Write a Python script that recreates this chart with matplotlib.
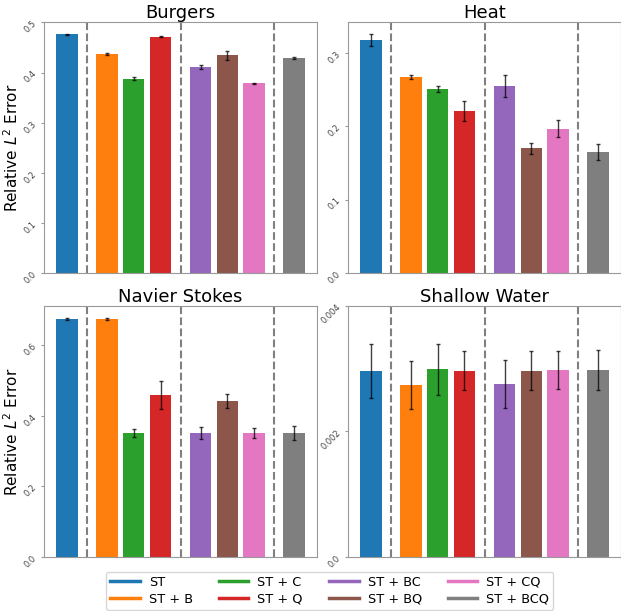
import numpy as np
import matplotlib.pyplot as plt
from matplotlib.lines import Line2D

# Methods and their group layout (gaps between groups)
methods = ["ST", "ST + B", "ST + C", "ST + Q", "ST + BC", "ST + BQ", "ST + CQ", "ST + BCQ"]
positions = [0, 1.5, 2.5, 3.5, 5, 6, 7, 8.5]
separators = [0.75, 4.25, 7.75]
colors = ["#1f77b4", "#ff7f0e", "#2ca02c", "#d62728",
          "#9467bd", "#8c564b", "#e377c2", "#7f7f7f"]

# Relative L2 error (mean, std) per dataset
burgers_mean = [0.476, 0.437, 0.388, 0.471, 0.412, 0.435, 0.379, 0.430]
burgers_std = [0.001, 0.002, 0.003, 0.001, 0.004, 0.009, 0.001, 0.002]

heat_mean = [0.318, 0.267, 0.251, 0.221, 0.255, 0.170, 0.197, 0.165]
heat_std = [0.008, 0.003, 0.004, 0.014, 0.015, 0.007, 0.012, 0.011]

navier_mean = [0.675, 0.674, 0.351, 0.459, 0.351, 0.443, 0.352, 0.351]
navier_std = [0.003, 0.003, 0.011, 0.040, 0.0165, 0.020, 0.015, 0.020]

shallow_mean = [0.00296, 0.00274, 0.00299, 0.00297, 0.00275, 0.00297, 0.00298, 0.00298]
shallow_std = [0.00043, 0.00038, 0.00041, 0.00031, 0.00038, 0.00031, 0.00030, 0.00032]

panels = [
    ("Burgers", burgers_mean, burgers_std, [0.0, 0.1, 0.2, 0.3, 0.4, 0.5], None),
    ("Heat", heat_mean, heat_std, [0.0, 0.1, 0.2, 0.3], None),
    ("Navier Stokes", navier_mean, navier_std, [0.0, 0.2, 0.4, 0.6], None),
    ("Shallow Water", shallow_mean, shallow_std, [0.0, 0.002, 0.004], (0, 0.004)),
]

fig = plt.figure(figsize=(6.21, 6.11), dpi=100)
rects = [
    [0.0709, 0.553, 0.4396, 0.411],
    [0.5604, 0.553, 0.4396, 0.411],
    [0.0709, 0.0884, 0.4396, 0.411],
    [0.5604, 0.0884, 0.4396, 0.411],
]

for i, (name, mean, std, ticks, ylim) in enumerate(panels):
    ax = fig.add_axes(rects[i])
    ax.bar(positions, mean, width=0.8, color=colors,
           yerr=std, capsize=1.5,
           error_kw=dict(ecolor="black", elinewidth=1, capthick=1, alpha=0.75))
    for s in separators:
        ax.axvline(s, color="gray", linestyle="--", linewidth=1.5)
    if ylim is not None:
        ax.set_ylim(*ylim)
    ax.set_yticks(ticks)
    ax.set_yticklabels([str(t) for t in ticks], rotation=45, fontsize=6, color="#444444")
    ax.set_xticks([])
    ax.tick_params(axis="y", length=2, color="#999999", pad=2)
    for sp in ax.spines.values():
        sp.set_color("#999999")
    ax.set_title(name, fontsize=13, pad=3)
    if i % 2 == 0:
        ax.set_ylabel("Relative $L^2$ Error", fontsize=11, labelpad=1)

handles = [Line2D([0], [0], color=c, linewidth=2.5) for c in colors]
fig.legend(handles, methods, loc="upper center", bbox_to_anchor=(0.531, 0.064),
           ncol=4, fontsize=9.3, handlelength=2.3, handletextpad=0.7,
           columnspacing=2.0, labelspacing=0.3, borderpad=0.3, borderaxespad=0.0)

fig.savefig("out.png", dpi=100)
